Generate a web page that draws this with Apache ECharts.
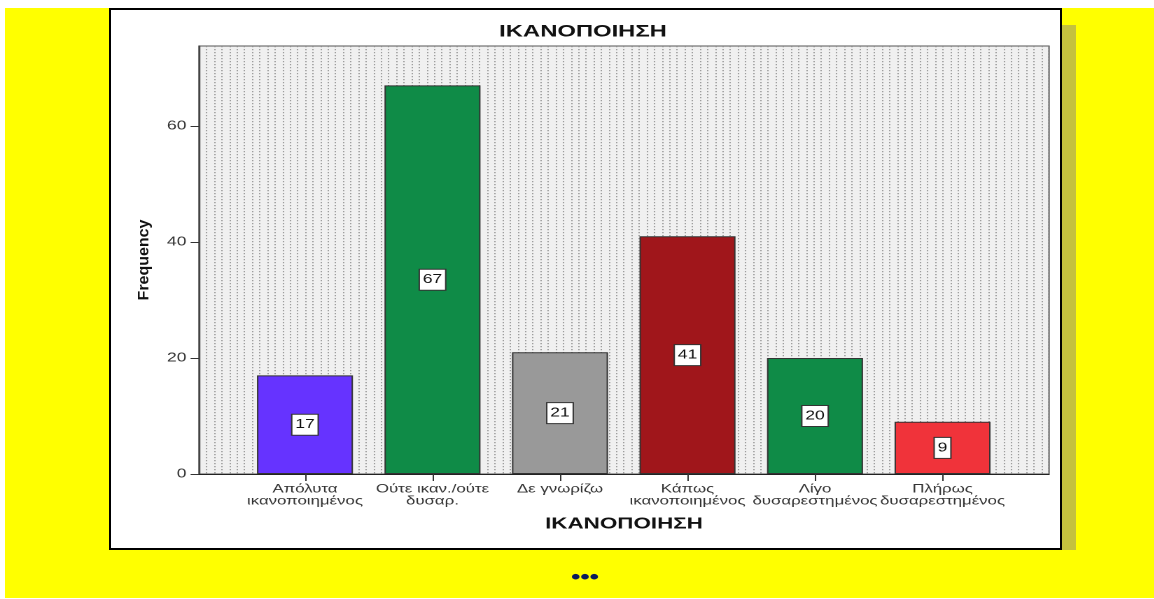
<!DOCTYPE html>
<html>
<head>
<meta charset="utf-8">
<script src="https://cdn.jsdelivr.net/npm/echarts@6/dist/echarts.min.js"></script>
<style>
  html, body { margin: 0; padding: 0; background: #fff; }
  .page { position: relative; width: 1154px; height: 599px; overflow: hidden; }
  .yellow { position: absolute; left: 5px; top: 8px; width: 1149px; height: 590px; background: #ffff00; }
  .shadow { position: absolute; left: 1062px; top: 25px; width: 14px; height: 525px; background: #c4c13e; }
  .box { position: absolute; left: 109px; top: 8px; width: 953px; height: 542px; background: #fff; border: 2px solid #000; box-sizing: border-box; }
  /* the original picture is stretched sideways, so the chart is drawn narrow and widened */
  #chart { position: absolute; left: 0; top: 0; width: 824.29px; height: 599px; transform: scaleX(1.4); transform-origin: 0 0; }
</style>
</head>
<body>
<div class="page">
  <div class="yellow"></div>
  <div class="shadow"></div>
  <div class="box"></div>
  <div id="chart"></div>
</div>
<script>
  var categories = ['Απόλυτα\nικανοποιημένος', 'Ούτε ικαν./ούτε\nδυσαρ.', 'Δε γνωρίζω', 'Κάπως\nικανοποιημένος', 'Λίγο\nδυσαρεστημένος', 'Πλήρως\nδυσαρεστημένος']
  var frequencies = [17, 67, 21, 41, 20, 9]
  var yTicks = [0, 20, 40, 60]
  var barColors = ['#6633ff', '#0f8b47', '#999999', '#a0161b', '#0f8b47', '#f0333a']

  var SX = 1.4
  var FONT = "'Liberation Sans', Arial, sans-serif"

  var myChart = echarts.init(document.getElementById('chart'), null, {devicePixelRatio: 2})

  var option = {
    animation: false,
    grid: {
      left: 199 / SX,
      top: 46,
      width: 850 / SX,
      height: 428,
      show: true,
      backgroundColor: '#f0f0f0',
      borderColor: '#555',
      borderWidth: 1,
      containLabel: false,
      outerBoundsMode: 'none'
    },
    xAxis: [{
      type: 'value',
      min: -0.831,
      max: 5.835,
      axisLine: { show: true, onZero: false, lineStyle: { color: '#222', width: 1 } },
      axisTick: { show: true, length: 7, customValues: [0, 1, 2, 3, 4, 5], lineStyle: { color: '#333' } },
      axisLabel: {
        customValues: [0, 1, 2, 3, 4, 5],
        formatter: function (v) { return categories[Math.round(v)] || '' },
        hideOverlap: false,
        showMinLabel: true,
        showMaxLabel: true,
        margin: 9,
        fontFamily: FONT,
        fontSize: 12,
        lineHeight: 12,
        color: '#333'
      },
      splitLine: { show: false }
    }, {
      // only the dotted texture of the plot area
      type: 'value',
      position: 'top',
      min: 0,
      max: 112,
      interval: 1,
      axisLine: { show: false },
      axisTick: { show: false },
      axisLabel: { show: false },
      splitLine: { show: true, lineStyle: { color: '#8a8a8a', width: 0.8, type: [1.2, 1.8] } }
    }],
    yAxis: {
      type: 'value',
      min: 0,
      max: 73.8,
      interval: 20,
      axisLine: { show: true, onZero: false, lineStyle: { color: '#444', width: 1.2 } },
      axisTick: { show: true, length: 6, customValues: yTicks, lineStyle: { color: '#333' } },
      axisLabel: {
        customValues: yTicks,
        margin: 9,
        fontFamily: FONT,
        fontSize: 12.5,
        color: '#333'
      },
      splitLine: { show: false }
    },
    graphic: [{
      type: 'text',
      x: 583 / SX,
      y: 32,
      style: { text: 'ΙΚΑΝΟΠΟΙΗΣΗ', font: 'bold 17px ' + FONT, fill: '#111', textAlign: 'center', textVerticalAlign: 'middle' }
    }, {
      type: 'text',
      x: 624 / SX,
      y: 524,
      style: { text: 'ΙΚΑΝΟΠΟΙΗΣΗ', font: 'bold 16px ' + FONT, fill: '#111', textAlign: 'center', textVerticalAlign: 'middle' }
    }, {
      type: 'text',
      x: 144 / SX,
      y: 260,
      rotation: Math.PI / 2,
      scaleY: 1 / SX,
      style: { text: 'Frequency', font: 'bold 16px ' + FONT, fill: '#111', textAlign: 'center', textVerticalAlign: 'middle' }
    }, {
      type: 'text',
      x: 585 / SX,
      y: 578,
      style: { text: '•••', font: 'bold 19px ' + FONT, fill: '#0a1a5c', textAlign: 'center', textVerticalAlign: 'middle' }
    }],
    series: [{
      type: 'bar',
      xAxisIndex: 0,
      barWidth: 96 / SX,
      data: frequencies.map(function (v, i) {
        return { value: [i, v], itemStyle: { color: barColors[i] } }
      }),
      itemStyle: { borderColor: '#333', borderWidth: 1 },
      label: {
        show: true,
        position: 'inside',
        formatter: function (p) { return p.value[1] },
        fontFamily: FONT,
        fontSize: 12.5,
        lineHeight: 12,
        color: '#111',
        backgroundColor: '#fff',
        borderColor: '#333',
        borderWidth: 1,
        padding: [4, 2]
      }
    }]
  }
  myChart.setOption(option)
</script>
</body>
</html>
